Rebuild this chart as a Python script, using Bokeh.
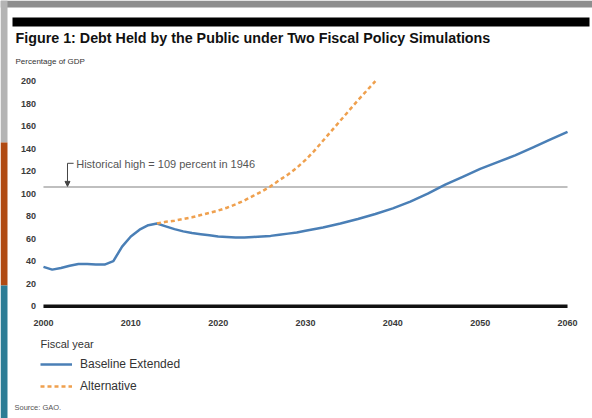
from bokeh.plotting import figure
from bokeh.models import (Label, Legend, LegendItem, Arrow, NormalHead, FixedTicker,
                          Range1d, BoxAnnotation, ColumnDataSource)
from bokeh.embed import file_html
from bokeh.resources import INLINE

# ---- data ----
base_years = [2000, 2001, 2002, 2003, 2004, 2005, 2006, 2007, 2008, 2009, 2010, 2011,
              2012, 2013, 2014, 2015, 2016, 2017, 2018, 2019, 2020, 2021, 2022, 2023,
              2024, 2025, 2026, 2027, 2028, 2029, 2030, 2032, 2034, 2036, 2038, 2040,
              2042, 2044, 2046, 2048, 2050, 2052, 2054, 2056, 2058, 2060]
base_values = [35, 32.5, 34, 36, 37.5, 37.5, 37, 37, 40, 53, 62, 68,
               72, 73.5, 71, 68.5, 66.5, 65, 64, 63, 62, 61.5, 61, 61,
               61.5, 62, 62.5, 63.5, 64.5, 65.5, 67, 70, 73.5, 77.5, 82, 87,
               93, 100, 108, 115, 122, 128, 134, 141, 148, 155]
alt_years = [2013, 2014, 2015, 2016, 2017, 2018, 2019, 2020, 2021, 2022, 2023, 2024,
             2025, 2026, 2027, 2028, 2029, 2030, 2031, 2032, 2033, 2034, 2035, 2036,
             2037, 2038]
alt_values = [73.5, 75, 76, 77.5, 79, 81, 83, 85, 87.5, 90.5, 94, 98,
              102, 106.5, 112, 117, 123, 130, 138, 147, 156, 165, 174, 183,
              191.5, 200]
historical_high = 106
y_ticks = [0, 20, 40, 60, 80, 100, 120, 140, 160, 180, 200]
x_ticks = [2000, 2010, 2020, 2030, 2040, 2050, 2060]

FONT = "Liberation Sans"
BLUE = "#4a7fb6"
ORANGE = "#efa04e"
W, H = 592, 418

p = figure(width=W, height=H, output_backend="svg", toolbar_location=None,
           x_range=Range1d(1995.08, 2062.86), y_range=Range1d(-99.8, 271.7),
           min_border_left=0, min_border_right=0, min_border_top=0, min_border_bottom=0)
p.outline_line_color = None
p.grid.grid_line_color = None
p.background_fill_color = "white"
p.border_fill_color = "white"

for ax in (p.xaxis[0], p.yaxis[0]):
    ax.axis_line_color = None
    ax.major_tick_line_color = None
    ax.minor_tick_line_color = None
    ax.major_tick_out = 0
    ax.major_tick_in = 0
    ax.minor_tick_out = 0
    ax.minor_tick_in = 0
    ax.major_label_text_font = FONT
    ax.major_label_text_font_size = "9px"
    ax.major_label_text_font_style = "bold"
    ax.major_label_text_color = "#3a3a3a"
p.yaxis.ticker = FixedTicker(ticks=y_ticks)
p.xaxis.ticker = FixedTicker(ticks=x_ticks)
p.yaxis.fixed_location = 1999.5
p.xaxis.fixed_location = -4
p.yaxis.major_label_standoff = 3
p.xaxis.major_label_standoff = 9


def box(l, r, t, b, color):
    p.add_layout(BoxAnnotation(left=l, right=r, top=t, bottom=b,
                               left_units="screen", right_units="screen",
                               top_units="screen", bottom_units="screen",
                               fill_color=color, fill_alpha=1, line_color=None))


# slide decoration (screen px from the bottom-left corner)
box(0, W, H, H - 7, "#8e8e8e")
box(0, 7, H, H - 142, "#b4b4b4")
box(0, 7, H - 142, H - 285, "#b04a12")
box(0, 7, H - 285, 0, "#2c7c95")
# black rule above the title
box(12, 589, H - 17, H - 26, "#000000")

x0, x1 = base_years[0], base_years[-1]
# historical high reference line
p.segment(x0=[x0], y0=[historical_high], x1=[x1], y1=[historical_high],
          line_color="#aaaaaa", line_width=1.5)
# zero line
p.segment(x0=[x0], y0=[0], x1=[x1], y1=[0], line_color="#111111", line_width=3.5)

src_b = ColumnDataSource(dict(x=base_years, y=base_values))
src_a = ColumnDataSource(dict(x=alt_years, y=alt_values))
rb = p.line("x", "y", source=src_b, line_color=BLUE, line_width=2.5)
ra = p.line("x", "y", source=src_a, line_color=ORANGE, line_width=2.5, line_dash="4 3")

# annotation arrow for historical high
ax_x = 2002.75
ann_y = 127
p.segment(x0=[ax_x], y0=[ann_y], x1=[ax_x + 0.7], y1=[ann_y], line_color="#444444", line_width=1)
p.add_layout(Arrow(x_start=ax_x, y_start=ann_y, x_end=ax_x, y_end=historical_high + 0.5,
                   line_color="#444444", line_width=1,
                   end=NormalHead(size=5, fill_color="#444444", line_color="#444444")))
p.add_layout(Label(x=ax_x + 1.0, y=ann_y - 1, text="Historical high = 109 percent in 1946",
                   text_font=FONT, text_font_size="11px", text_color="#555555",
                   text_baseline="middle"))

# ---- texts around the chart (screen px from the bottom-left corner) ----
p.add_layout(Label(x=15, y=H - 37, x_units="screen", y_units="screen",
                   text="Figure 1: Debt Held by the Public under Two Fiscal Policy Simulations",
                   text_font=FONT, text_font_size="14.3px", text_font_style="bold",
                   text_color="#111111", text_baseline="middle"))
p.add_layout(Label(x=15, y=H - 61, x_units="screen", y_units="screen",
                   text="Percentage of GDP", text_font=FONT, text_font_size="8px",
                   text_color="#333333", text_baseline="middle"))
p.add_layout(Label(x=40, y=H - 343, x_units="screen", y_units="screen",
                   text="Fiscal year", text_font=FONT, text_font_size="11px",
                   text_color="#333333", text_baseline="middle"))
p.add_layout(Label(x=14, y=H - 407, x_units="screen", y_units="screen",
                   text="Source: GAO.", text_font=FONT, text_font_size="7.5px",
                   text_color="#555555", text_baseline="middle"))

legend = Legend(items=[LegendItem(label="Baseline Extended", renderers=[rb]),
                       LegendItem(label="Alternative", renderers=[ra])],
                location=(40, 25), orientation="vertical",
                glyph_width=32, glyph_height=10, label_height=10, spacing=8,
                padding=0, margin=0, label_standoff=8,
                label_text_font=FONT, label_text_font_size="12px", label_text_color="#333333",
                border_line_color=None, background_fill_alpha=0)
p.add_layout(legend)

open("out.html", "w").write(file_html(p, INLINE))
